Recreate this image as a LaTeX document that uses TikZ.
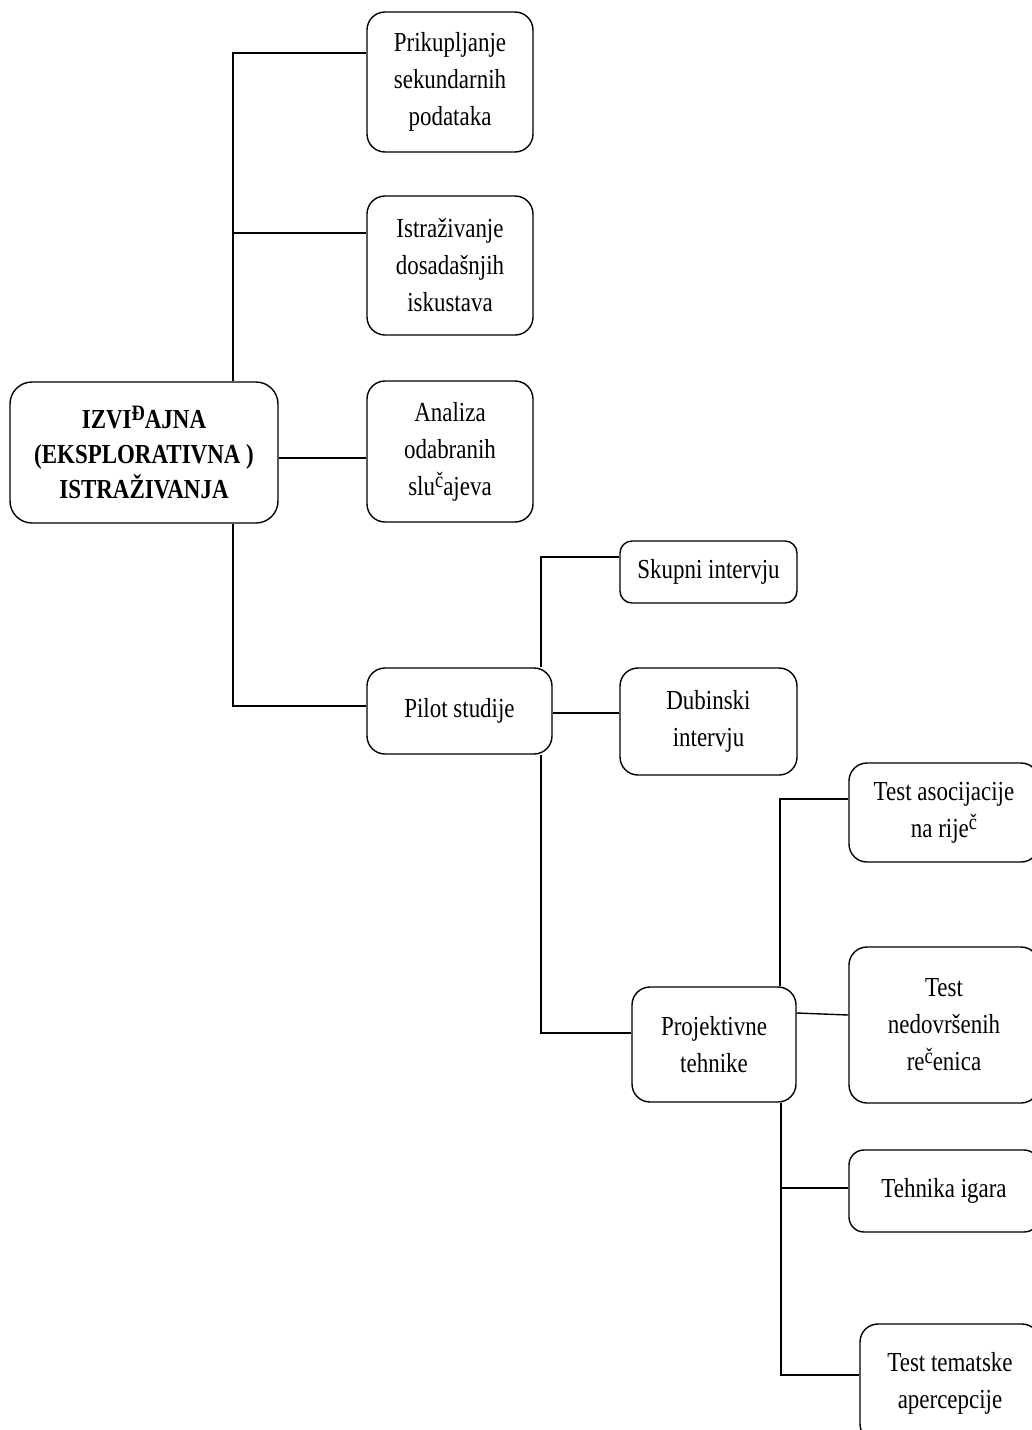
\documentclass[tikz,border=0pt]{standalone}
\usepackage{fontspec}
\setmainfont[FakeStretch=0.835]{Liberation Serif}
\newcommand{\rz}[1]{\raisebox{0.28em}{\fontsize{22}{22}\selectfont #1}}
\begin{document}
\begin{tikzpicture}[x=1pt,y=1pt,
  box/.style={draw=black, line width=1.4pt, rounded corners=18pt, inner sep=0pt,
    align=center, font=\fontsize{27.5}{37}\selectfont},
  conn/.style={line width=1.4pt}]
\useasboundingbox (0,0) rectangle (1032,-1430);
\fill[white] (0,0) rectangle (1032,-1430);

\node[box, rounded corners=22pt, minimum width=268, minimum height=141,
  font=\fontsize{27.5}{35}\selectfont\bfseries] (main) at (144,-452.5)
  {IZVI\rz{Đ}AJNA\\(EKSPLORATIVNA )\\ISTRAŽIVANJA};
\node[box, minimum width=166, minimum height=140] (prik) at (450,-82)
  {Prikupljanje\\sekundarnih\\podataka};
\node[box, minimum width=166, minimum height=139] (istr) at (450,-265.5)
  {Istraživanje\\dosadašnjih\\iskustava};
\node[box, minimum width=166, minimum height=141] (ana) at (450,-451.5)
  {Analiza\\odabranih\\slu\rz{č}ajeva};
\node[box, minimum width=185, minimum height=86] (pilot) at (459.5,-711)
  {Pilot studije};
\node[box, rounded corners=12pt, minimum width=177, minimum height=62] (skup) at (708.5,-572)
  {Skupni intervju};
\node[box, minimum width=177, minimum height=107] (dub) at (708.5,-721.5)
  {Dubinski\\intervju};
\node[box, minimum width=164, minimum height=115] (proj) at (714,-1044.5)
  {Projektivne\\tehnike};
\node[box, minimum width=190, minimum height=99] (tasoc) at (944,-812.5)
  {Test asocijacije\\na rije\rz{č}};
\node[box, minimum width=190, minimum height=156] (tned) at (944,-1025)
  {Test\\nedovršenih\\re\rz{č}enica};
\node[box, rounded corners=15pt, minimum width=190, minimum height=82] (teh) at (944,-1191)
  {Tehnika igara};
\node[box, minimum width=180, minimum height=118] (ttem) at (950,-1383)
  {Test tematske\\apercepcije};

% connectors from the main node
\draw[conn] ([xshift=89]main.north) |- ([yshift=29]prik.west);
\path ([xshift=89]main.north) coordinate (tr);
\path ([yshift=32.5]istr.west) coordinate (i1);
\draw[conn] (i1) -- (i1 -| tr);
\draw[conn] ([yshift=-5.5]main.east) -- ([yshift=-6.5]ana.west);
\draw[conn] ([xshift=89]main.south) |- ([yshift=5]pilot.west);

% connectors from pilot
\draw[conn] ([xshift=81.5]pilot.north) |- ([yshift=15]skup.west);
\draw[conn] ([yshift=-2]pilot.east) -- ([yshift=8.5]dub.west);
\draw[conn] ([xshift=81.5]pilot.south) |- ([yshift=11.5]proj.west);

% connectors from projektivne
\draw[conn] ([xshift=66]proj.north) |- ([yshift=13.5]tasoc.west);
\draw[conn] ([yshift=31.5]proj.east) -- ([yshift=10]tned.west);
\draw[conn] ([xshift=67]proj.south) |- ([yshift=8]ttem.west);
\path ([xshift=67]proj.south) coordinate (pb);
\path ([yshift=3]teh.west) coordinate (h1);
\draw[conn] (h1) -- (h1 -| pb);
\end{tikzpicture}
\end{document}
